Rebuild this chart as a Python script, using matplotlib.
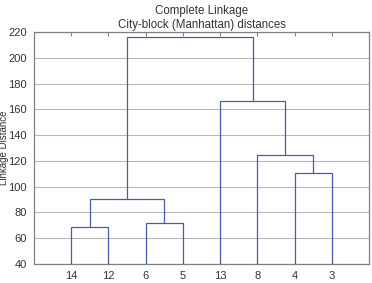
import matplotlib
matplotlib.use("Agg")
import matplotlib.pyplot as plt

plt.rcParams['font.family'] = ['Liberation Sans', 'DejaVu Sans']

# leaves in plotted order
leaf_labels = ["14", "12", "6", "5", "13", "8", "4", "3"]

# merges: (left child, right child, height); children are leaf labels or earlier merge names
merge_names = ["a", "b", "c", "d", "e", "f", "g"]
merge_left = ["14", "6", "a", "4", "8", "13", "c"]
merge_right = ["12", "5", "b", "3", "d", "e", "f"]
merge_height = [68.4, 71.8, 90.2, 110.3, 124.7, 166.6, 216.2]

base = 40
line_color = "#4a5aa8"

fig = plt.figure(figsize=(3.72, 2.83), dpi=100)
ax = fig.add_axes([0.0914, 0.067, 0.9006, 0.82])

pos = {lab: (i + 1, base) for i, lab in enumerate(leaf_labels)}
for name, l, r, h in zip(merge_names, merge_left, merge_right, merge_height):
    xl, yl = pos[l]
    xr, yr = pos[r]
    ax.plot([xl, xl, xr, xr], [yl, h, h, yr], color=line_color, lw=0.9,
            solid_joinstyle="miter", zorder=3)
    pos[name] = ((xl + xr) / 2, h)

ax.set_xlim(0, len(leaf_labels) + 1)
ax.set_ylim(40, 220)
ax.set_yticks(range(40, 221, 20))
ax.set_xticks(range(1, len(leaf_labels) + 1))
ax.set_xticklabels(leaf_labels)
ax.grid(axis="y", color="#b8b8b8", lw=0.8)
ax.set_axisbelow(True)
ax.tick_params(axis="x", top=True, bottom=False, direction="in", length=3,
               color="#808080", labelsize=8, pad=5)
ax.tick_params(axis="y", left=False, labelsize=8, pad=1.5, colors="#333333")
for sp in ax.spines.values():
    sp.set_color("#808080")
    sp.set_linewidth(0.9)
for t in ax.get_xticklabels():
    t.set_color("#333333")

ax.set_ylabel("Linkage Distance", fontsize=7, color="#333333")
ax.yaxis.set_label_coords(-0.074, 0.5)
ax.set_title("Complete Linkage\nCity-block (Manhattan) distances", fontsize=8.3,
             color="#333333", pad=3, linespacing=1.15)

fig.savefig("out.png", dpi=100)
